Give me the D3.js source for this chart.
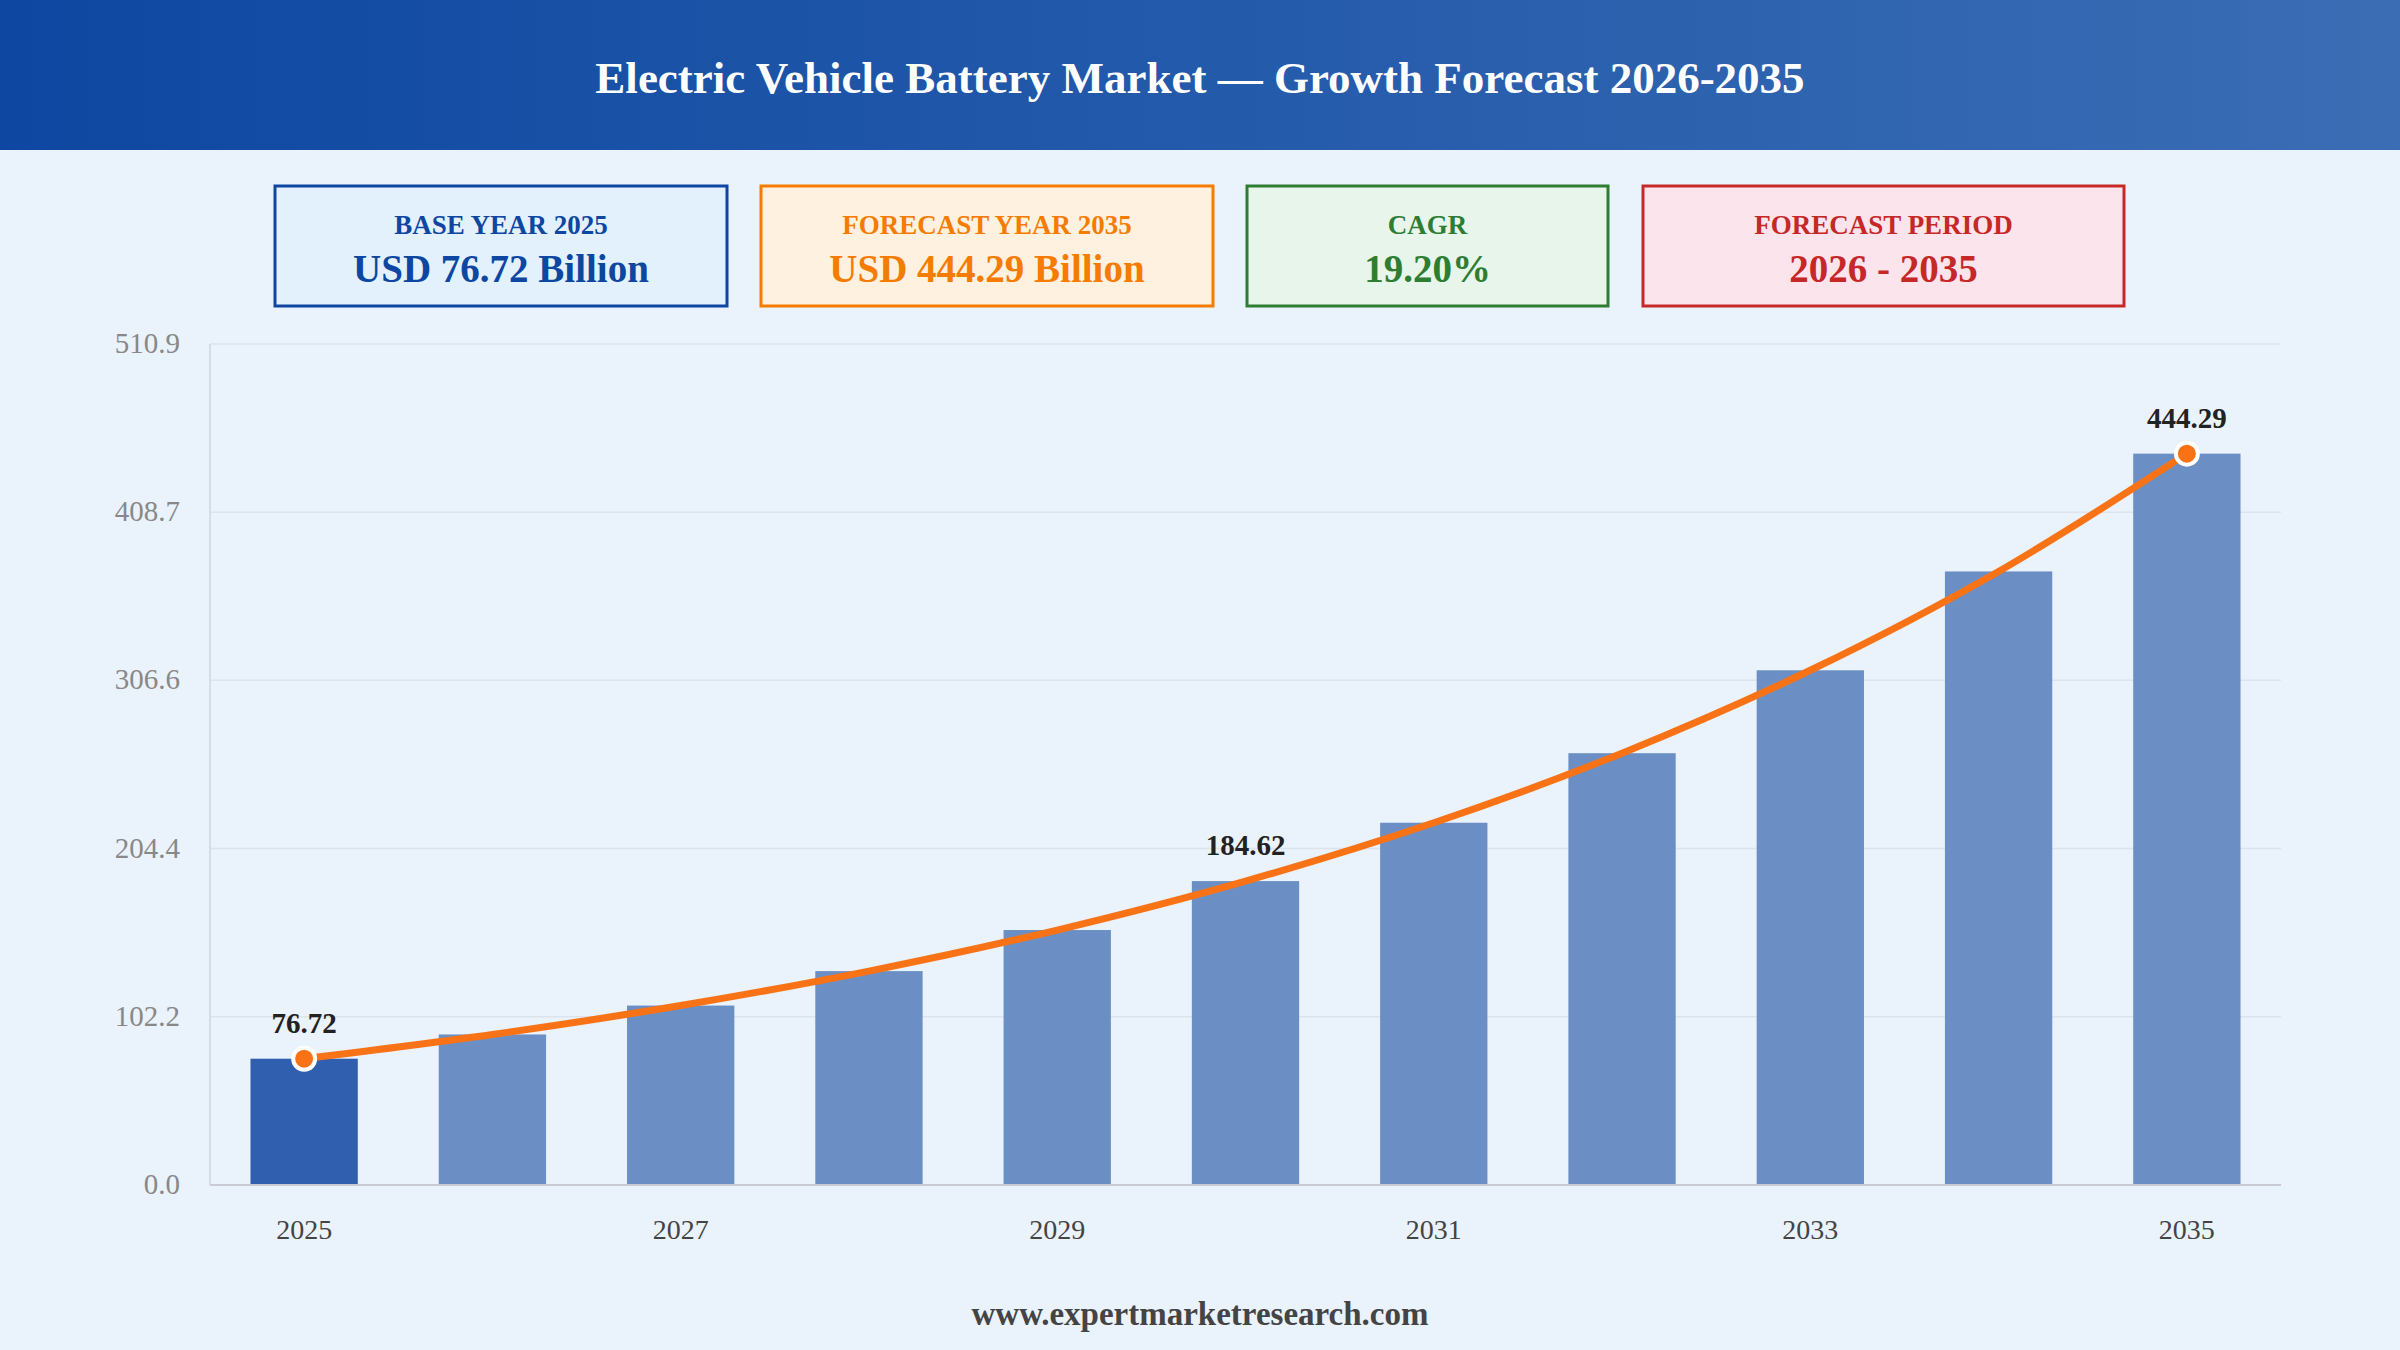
<!DOCTYPE html>
<html><head><meta charset="utf-8">
<script src="https://cdn.jsdelivr.net/npm/d3@7"></script>
<style>
body{margin:0;background:#eaf2fb;}
svg{display:block;font-family:"Liberation Serif","DejaVu Serif",serif;}
</style></head>
<body><div id="chart"></div>
<script>
// Data
const years = [2025,2026,2027,2028,2029,2030,2031,2032,2033,2034,2035];
const values = [76.72,91.45,109.01,129.94,154.89,184.62,220.07,262.32,312.69,372.73,444.29];
const yTicks = [0,102.2,204.4,306.6,408.7,510.9];
const labelled = [2025,2030,2035];
const cards = [
  {title:'BASE YEAR 2025', value:'USD 76.72 Billion', fg:'#0d47a1', bg:'#e3f1fd', x:275, w:452},
  {title:'FORECAST YEAR 2035', value:'USD 444.29 Billion', fg:'#f57c00', bg:'#fff1df', x:761, w:452},
  {title:'CAGR', value:'19.20%', fg:'#2e7d32', bg:'#e7f5ea', x:1247, w:361},
  {title:'FORECAST PERIOD', value:'2026 - 2035', fg:'#c62828', bg:'#fce4ec', x:1643, w:481}
];

const W = 2400, H = 1350;
const svg = d3.select('#chart').append('svg').attr('width', W).attr('height', H);

// Header
const grad = svg.append('defs').append('linearGradient').attr('id','hdr');
grad.append('stop').attr('offset','0%').attr('stop-color','#0d47a1');
grad.append('stop').attr('offset','100%').attr('stop-color','#3a6db4');
svg.append('rect').attr('width', W).attr('height', 150).attr('fill','url(#hdr)');
svg.append('text').attr('x', W/2).attr('y', 93).attr('text-anchor','middle')
   .attr('fill','#fff').attr('font-size', 45).attr('font-weight','bold')
   .text('Electric Vehicle Battery Market — Growth Forecast 2026-2035');

// Cards
const cg = svg.selectAll('g.card').data(cards).enter().append('g');
cg.append('rect').attr('x', d => d.x).attr('y', 186).attr('width', d => d.w).attr('height', 120)
  .attr('fill', d => d.bg).attr('stroke', d => d.fg).attr('stroke-width', 3);
cg.append('text').attr('x', d => d.x + d.w/2).attr('y', 234).attr('text-anchor','middle')
  .attr('fill', d => d.fg).attr('font-size', 27).attr('font-weight','bold').text(d => d.title);
cg.append('text').attr('x', d => d.x + d.w/2).attr('y', 282).attr('text-anchor','middle')
  .attr('fill', d => d.fg).attr('font-size', 39).attr('font-weight','bold').text(d => d.value);

// Plot area
const x0 = 210, x1 = 2281, yTop = 344, yBot = 1185;
const x = d3.scaleBand().domain(years).range([x0, x1]).paddingInner(0.43).paddingOuter(0.215);
const y = d3.scaleLinear().domain([0, 510.9]).range([yBot, yTop]);

svg.append('g').selectAll('line').data(yTicks).enter().append('line')
   .attr('x1', x0).attr('x2', x1).attr('y1', d => y(d)).attr('y2', d => y(d))
   .attr('stroke','#dde3ec').attr('stroke-width', 1.5);
svg.append('line').attr('x1', x0).attr('x2', x0).attr('y1', yTop).attr('y2', yBot)
   .attr('stroke','#d6dce6').attr('stroke-width', 2);
svg.append('g').selectAll('text').data(yTicks).enter().append('text')
   .attr('x', x0 - 30).attr('y', d => y(d) + 9).attr('text-anchor','end')
   .attr('fill','#888').attr('font-size', 29).text(d => d.toFixed(1));

svg.append('g').selectAll('rect').data(years).enter().append('rect')
   .attr('x', d => x(d)).attr('width', x.bandwidth())
   .attr('y', (d, i) => y(values[i])).attr('height', (d, i) => yBot - y(values[i]))
   .attr('fill', (d, i) => i === 0 ? '#2f5fae' : '#6b8fc4');

svg.append('line').attr('x1', x0).attr('x2', x1).attr('y1', yBot).attr('y2', yBot)
   .attr('stroke','#c8ccd2').attr('stroke-width', 2);

svg.append('g').selectAll('text').data(years.filter((d, i) => i % 2 === 0)).enter().append('text')
   .attr('x', d => x(d) + x.bandwidth()/2).attr('y', 1239).attr('text-anchor','middle')
   .attr('fill','#444').attr('font-size', 28).text(d => d);

// Trend line
const cx = d => x(d) + x.bandwidth()/2;
const line = d3.line().x(d => cx(d)).y((d, i) => y(values[i])).curve(d3.curveMonotoneX);
svg.append('path').datum(years).attr('d', line).attr('fill','none')
   .attr('stroke','#f97316').attr('stroke-width', 7).attr('stroke-linecap','round');

const pts = labelled.map(yr => ({yr, v: values[years.indexOf(yr)]}));
svg.append('g').selectAll('circle').data(pts).enter().append('circle')
   .attr('cx', d => cx(d.yr)).attr('cy', d => y(d.v)).attr('r', 11)
   .attr('fill','#f97316').attr('stroke','#fff').attr('stroke-width', 4)
   .attr('opacity', d => d.yr === 2030 ? 0 : 1);
svg.append('g').selectAll('text').data(pts).enter().append('text')
   .attr('x', d => cx(d.yr)).attr('y', d => y(d.v) - 26).attr('text-anchor','middle')
   .attr('fill','#222').attr('font-size', 29).attr('font-weight','bold').text(d => d.v.toFixed(2));

// Footer
svg.append('text').attr('x', W/2).attr('y', 1325).attr('text-anchor','middle')
   .attr('fill','#444').attr('font-size', 33).attr('font-weight','bold')
   .text('www.expertmarketresearch.com');
</script></body></html>
